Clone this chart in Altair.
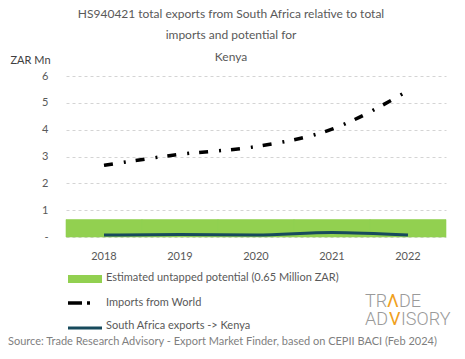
import altair as alt
import pandas as pd

years = ["2018", "2019", "2020", "2021", "2022"]
imports_world = [2.67, 3.08, 3.37, 4.02, 5.45]
sa_exports = [0.07, 0.09, 0.07, 0.17, 0.07]
potential = 0.65

title_lines = ["HS940421 total exports from South Africa relative to total",
               "imports and potential for",
               "Kenya"]
legend_labels = ["Estimated untapped potential (0.65 Million ZAR)",
                 "Imports from World",
                 "South Africa exports -> Kenya"]
source_text = "Source: Trade Research Advisory - Export Market Finder, based on CEPII BACI (Feb 2024)"
logo_pieces = ["TR", "\u039b", "DE", "AD", "V", "ISORY"]

FONT = "Lato"
GREY = "#595959"
GREEN = "#92d050"
TEAL = "#174a5c"
ORANGE = "#f0a020"
LOGO_GREY = "#9a9a9a"

W, H = 380, 161

df = pd.DataFrame({"year": years, "imports": imports_world,
                   "sa": sa_exports, "pot": [potential] * len(years)})

xscale = alt.Scale(type="band", domain=years, paddingInner=0, paddingOuter=0)
yscale = alt.Scale(domain=[0, 6], nice=False, zero=True)

xaxis = alt.Axis(title=None, labelAngle=0, domain=False, ticks=False,
                 labelPadding=13, labelFont=FONT, labelFontSize=11,
                 labelColor=GREY, grid=False)
yaxis = alt.Axis(values=[0, 1, 2, 3, 4, 5, 6], title="ZAR Mn",
                 labelExpr="datum.value == 0 ? '-' : datum.label",
                 labelOverlap=False,
                 domain=False, ticks=False, labelPadding=18,
                 labelFont=FONT, labelFontSize=11, labelColor=GREY,
                 grid=True, gridDash=[3, 3], gridColor="#d4d4d4",
                 titleAngle=0, titleX=-56, titleY=-16, titleAlign="left",
                 titleBaseline="middle", titleFont=FONT, titleFontSize=11,
                 titleFontWeight="normal", titleColor="#404040")

base = alt.Chart(df)

bars = base.mark_bar(color=GREEN, stroke=GREEN, strokeWidth=0.6).encode(
    x=alt.X("year:N", scale=xscale, axis=xaxis),
    y=alt.Y("pot:Q", scale=yscale, axis=yaxis),
)

imp_line = base.mark_line(color="black", strokeWidth=3.5,
                          strokeDash=[9, 11, 2, 10], interpolate="monotone").encode(
    x=alt.X("year:N", scale=xscale, axis=xaxis),
    y=alt.Y("imports:Q", scale=yscale, axis=yaxis),
)

sa_line = base.mark_line(color=TEAL, strokeWidth=3,
                         interpolate="monotone").encode(
    x=alt.X("year:N", scale=xscale, axis=xaxis),
    y=alt.Y("sa:Q", scale=yscale, axis=yaxis),
)

one = pd.DataFrame({"k": [0]})

leg_rect = alt.Chart(one).mark_rect(color=GREEN).encode(
    x=alt.value(2), x2=alt.value(36), y=alt.value(199), y2=alt.value(207))
leg_imp = alt.Chart(one).mark_rule(color="black", strokeWidth=3.5,
                                   strokeDash=[14, 5, 3, 30]).encode(
    x=alt.value(2), x2=alt.value(36), y=alt.value(227))
leg_sa = alt.Chart(one).mark_rule(color=TEAL, strokeWidth=3).encode(
    x=alt.value(2), x2=alt.value(36), y=alt.value(252))


def text_layer(txt, px, py, align="left", size=11, color=GREY, font=FONT,
               weight="normal", baseline="middle"):
    return alt.Chart(pd.DataFrame({"t": [txt]})).mark_text(
        align=align, baseline=baseline, font=font, fontSize=size,
        color=color, fontWeight=weight).encode(
        x=alt.value(px), y=alt.value(py), text="t:N")


texts = []
for lab, yy in zip(legend_labels, [202, 227, 250]):
    texts.append(text_layer(lab, 40, yy))
for line, yy in zip(title_lines, [-62, -41, -19]):
    texts.append(text_layer(line, 165, yy, align="center", size=12))
texts.append(text_layer(source_text, -58, 266, color="#7f7f7f"))

logo_x = [299, 321, 333, 299, 323, 335]
logo_y = [231, 231, 231, 249, 249, 249]
logo_c = [LOGO_GREY, ORANGE, LOGO_GREY, LOGO_GREY, ORANGE, LOGO_GREY]
logo_w = [300, 400, 300, 300, 400, 300]
for t, px, py, c, w in zip(logo_pieces, logo_x, logo_y, logo_c, logo_w):
    texts.append(text_layer(t, px, py, size=18, color=c, font="Roboto",
                            weight=w, baseline="alphabetic"))

chart = alt.layer(bars, imp_line, sa_line, leg_rect, leg_imp, leg_sa,
                  *texts).properties(
    width=W, height=H,
    background="white",
    autosize=alt.AutoSizeParams(type="none"),
    padding={"left": 58, "top": 68, "right": 11, "bottom": 114},
).configure_view(stroke="transparent", strokeWidth=0)

chart.save("out.html", embed_options={"renderer": "svg", "actions": False})
